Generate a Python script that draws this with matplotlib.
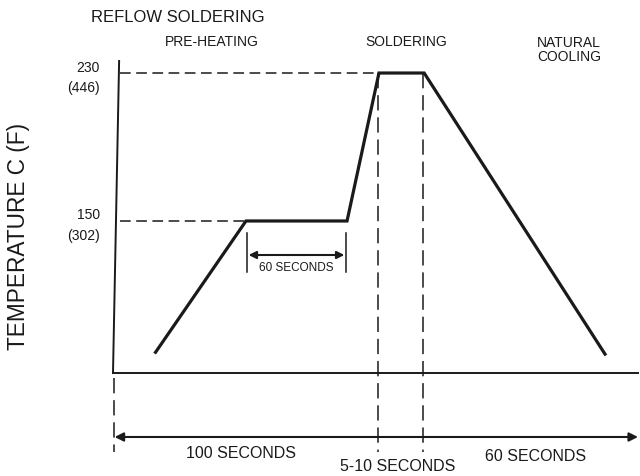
import matplotlib.pyplot as plt

plt.rcParams['font.family'] = ['Liberation Sans', 'DejaVu Sans']

# reflow profile (schematic: time in s, temperature in C)
time_s = [16, 50, 88, 100, 117, 185]
temp_c = [79, 150, 150, 230, 230, 78]

temp_ticks = [150, 230]
temp_labels = ['150\n(302)', '230\n(446)']

soak_start, soak_end = 50, 87
peak_start, peak_end = 100, 116.5
t_end = 197.4
t_min, t_max_c = 67.8, 236.5

phase_names = ['PRE-HEATING', 'SOLDERING', 'NATURAL\nCOOLING']
span_labels = ['100 SECONDS', '5-10 SECONDS', '60 SECONDS']
span_pos = [48, 107, 159]
span_y = [24.1, 17.0, 22.4]

ink = '#1a1a1a'

fig = plt.figure(figsize=(6.4, 4.76), dpi=100)
ax = fig.add_axes([113 / 640, 1 - 373 / 476, 525 / 640, 312 / 476])
ax.set_xlim(0, t_end)
ax.set_ylim(t_min, t_max_c)

for s in ['top', 'right', 'left']:
    ax.spines[s].set_visible(False)
ax.spines['bottom'].set_linewidth(1.4)
ax.spines['bottom'].set_color(ink)
ax.set_xticks([])
ax.set_yticks(temp_ticks)
ax.set_yticklabels(temp_labels, fontsize=10, color=ink, linespacing=1.6)
ax.tick_params(axis='y', length=0, pad=9.5)

# slightly slanted temperature axis
ax.plot([0, 2.3], [t_min, t_max_c], color=ink, lw=1.4, clip_on=False)

# profile
ax.plot(time_s, temp_c, color=ink, lw=2.3, solid_joinstyle='miter', clip_on=False)

# horizontal guides
ax.plot([2.6, peak_start], [230, 230], color=ink, lw=1.1, dashes=(7, 3.6))
ax.plot([2.6, soak_start], [150, 150], color=ink, lw=1.1, dashes=(7, 3.6))

# vertical guides reaching below the axis
low = 25
for t in [peak_start - 0.5, peak_end]:
    ax.plot([t, t], [230, low], color=ink, lw=1.1, dashes=(10, 4.5), clip_on=False)
ax.plot([0.4, 0.4], [65, low], color=ink, lw=1.1, dashes=(10, 4.5), clip_on=False)

# soak duration marker
for t in [soak_start + 0.5, soak_end + 0.5]:
    ax.plot([t, t], [122.4, 143.5], color=ink, lw=1.1)
ax.annotate('', xy=(soak_end, 131.6), xytext=(soak_start + 1, 131.6),
            arrowprops=dict(arrowstyle='<|-|>', color=ink, lw=1.5, mutation_scale=11,
                            shrinkA=0, shrinkB=0))
ax.text((soak_start + soak_end) / 2 + 0.5, 124.8, '60 SECONDS', fontsize=8.5,
        ha='center', va='center', color=ink)

# overall time arrow
ax.annotate('', xy=(t_end, 33.2), xytext=(0.6, 33.2), annotation_clip=False,
            arrowprops=dict(arrowstyle='<|-|>', color=ink, lw=1.5, mutation_scale=13,
                            shrinkA=0, shrinkB=0))
for lab, x, y in zip(span_labels, span_pos, span_y):
    ax.text(x, y, lab, fontsize=11.5, ha='center', va='center', color=ink, clip_on=False)

# titles
fig.text(178 / 640, 1 - 17 / 476, 'REFLOW SOLDERING', fontsize=12, ha='center', va='center', color=ink)
fig.text(212 / 640, 1 - 42 / 476, phase_names[0], fontsize=10, ha='center', va='center', color=ink)
fig.text(406 / 640, 1 - 42 / 476, phase_names[1], fontsize=10, ha='center', va='center', color=ink)
fig.text(537 / 640, 1 - 50 / 476, phase_names[2], fontsize=10, ha='left', va='center',
         color=ink, linespacing=1.05)
fig.text(19 / 640, 1 - 236 / 476, 'TEMPERATURE C (F)', fontsize=16.3, rotation=90,
         ha='center', va='center', color=ink)

fig.savefig('out.png', dpi=100)
